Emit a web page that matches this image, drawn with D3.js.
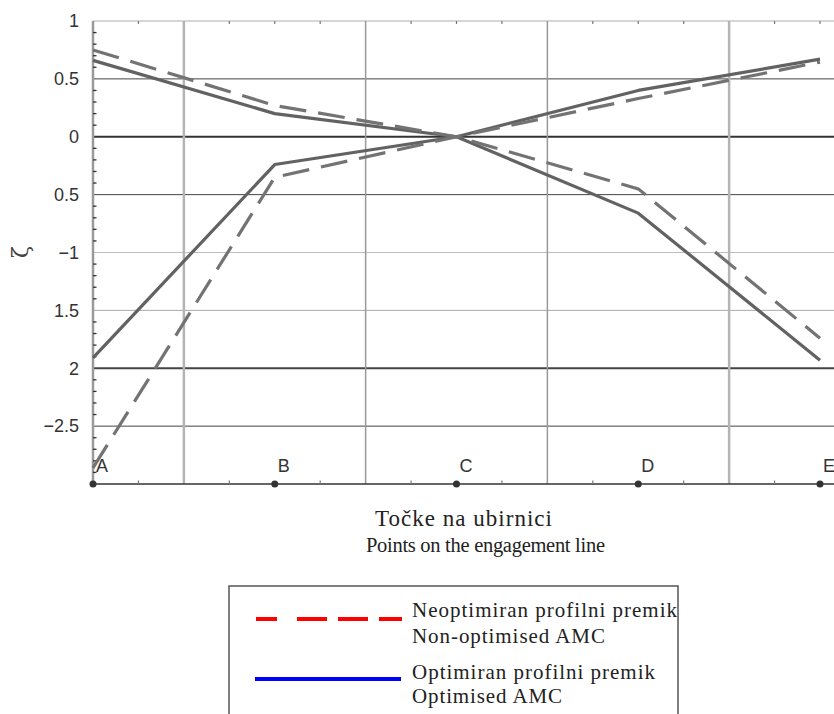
<!DOCTYPE html>
<html>
<head>
<meta charset="utf-8">
<script src="https://cdn.jsdelivr.net/npm/d3@7"></script>
<style>
  html, body { margin: 0; padding: 0; background: #fff; }
  svg { display: block; }
</style>
</head>
<body>
<div id="chart"></div>
<script>
// ---- data ----
const points = ["A", "B", "C", "D", "E"];
const nonOptDown = [0.75, 0.27, 0, -0.45, -1.74];
const nonOptUp = [-2.86, -0.35, 0, 0.33, 0.645];
const optDown = [0.66, 0.20, 0, -0.66, -1.93];
const optUp = [-1.91, -0.24, 0, 0.40, 0.67];
const yTickValues = [1, 0.5, 0, -0.5, -1, -1.5, -2, -2.5];
const yTickLabels = ["1", "0.5", "0", "0.5", "\u22121", "1.5", "2", "\u22122.5"];
const xTitleLines = ["Točke na ubirnici", "Points on the engagement line"];
const legendLabels = [
  ["Neoptimiran profilni premik", "Non-optimised AMC"],
  ["Optimiran profilni premik", "Optimised AMC"]
];

const W = 834, H = 714;
const svg = d3.select("#chart").append("svg").attr("width", W).attr("height", H);

const x = d3.scaleLinear().domain([0, 4]).range([93, 820]);
const y = d3.scaleLinear().domain([-3, 1]).range([484, 21]);
const xRight = 834;

// horizontal grid lines
const hStyle = {
  "1": ["#c8c8c8", 1.5], "0.5": ["#444", 1], "0": ["#333", 2], "-0.5": ["#444", 1],
  "-1": ["#bdbdbd", 1], "-1.5": ["#aaa", 1], "-2": ["#444", 2], "-2.5": ["#444", 1]
};
svg.append("g").selectAll("line").data(yTickValues).join("line")
  .attr("x1", x(0)).attr("x2", xRight)
  .attr("y1", d => y(d)).attr("y2", d => y(d))
  .attr("stroke", d => hStyle[String(d)][0])
  .attr("stroke-width", d => hStyle[String(d)][1]);

// vertical grid lines
const vGrid = [0.5, 1.5, 2.5, 3.5];
svg.append("g").selectAll("line").data(vGrid).join("line")
  .attr("x1", d => x(d)).attr("x2", d => x(d))
  .attr("y1", y(1)).attr("y2", y(-3))
  .attr("stroke", (d, i) => (i === 0 || i === 3) ? "#b4b4b4" : "#999")
  .attr("stroke-width", (d, i) => (i === 0 || i === 3) ? 2.5 : 1.5);

// top minor ticks
const quarter = d3.range(0, 4.01, 0.25).filter(v => Math.abs((v % 1) - 0.5) > 0.01);
svg.append("g").selectAll("line").data(quarter).join("line")
  .attr("x1", d => x(d)).attr("x2", d => x(d))
  .attr("y1", y(1)).attr("y2", y(1) + 3)
  .attr("stroke", "#777").attr("stroke-width", 1.2);

// left axis line and minor ticks
svg.append("line").attr("x1", x(0)).attr("x2", x(0)).attr("y1", y(1)).attr("y2", y(-3))
  .attr("stroke", "#9a9a9a").attr("stroke-width", 2.5);
const minorY = d3.range(-29, 10).map(v => v / 10).filter(v => Math.abs(v * 2 - Math.round(v * 2)) > 0.01);
svg.append("g").selectAll("line").data(minorY).join("line")
  .attr("x1", x(0)).attr("x2", x(0) + 3.5)
  .attr("y1", d => y(d)).attr("y2", d => y(d))
  .attr("stroke", "#333").attr("stroke-width", 1.3);

// y tick labels via axis
const yAxis = d3.axisLeft(y).tickValues(yTickValues)
  .tickFormat((d, i) => yTickLabels[i]).tickSize(0).tickPadding(14);
const gy = svg.append("g").attr("transform", `translate(${x(0)},0)`).call(yAxis);
gy.select(".domain").remove();
gy.selectAll("text").attr("font-family", "Liberation Sans, Arial, sans-serif")
  .attr("font-size", 18).attr("fill", "#333");

// bottom axis line
svg.append("line").attr("x1", x(0)).attr("x2", xRight).attr("y1", y(-3)).attr("y2", y(-3))
  .attr("stroke", "#333").attr("stroke-width", 1.6);
const bottomTicks = d3.range(0.25, 4, 0.25).filter(v => Math.abs((v % 1) - 0.5) > 0.01 && Math.abs(v % 1) > 0.01);
svg.append("g").selectAll("line").data(bottomTicks).join("line")
  .attr("x1", d => x(d)).attr("x2", d => x(d))
  .attr("y1", y(-3)).attr("y2", y(-3) - 3.5)
  .attr("stroke", "#777").attr("stroke-width", 1.2);

// series lines
const line = d3.line().x((d, i) => x(i)).y(d => y(d));
[optDown, optUp].forEach(s => {
  svg.append("path").datum(s).attr("d", line).attr("fill", "none")
    .attr("stroke", "#626262").attr("stroke-width", 3.2).attr("stroke-linejoin", "round");
});
[nonOptDown, nonOptUp].forEach(s => {
  svg.append("path").datum(s).attr("d", line).attr("fill", "none")
    .attr("stroke", "#737373").attr("stroke-width", 3.2).attr("stroke-dasharray", "27,12");
});

// point dots and labels
svg.append("g").selectAll("circle").data(points).join("circle")
  .attr("cx", (d, i) => x(i)).attr("cy", y(-3)).attr("r", 3.5).attr("fill", "#333");
svg.append("g").selectAll("text").data(points).join("text")
  .attr("x", (d, i) => x(i) + 3).attr("y", 472)
  .attr("font-family", "Liberation Sans, Arial, sans-serif").attr("font-size", 18)
  .attr("fill", "#333").text(d => d);

// y axis label
svg.append("text").attr("transform", "translate(28,252) rotate(-90)")
  .attr("text-anchor", "middle").attr("font-family", "DejaVu Serif, serif")
  .attr("font-size", 22).attr("fill", "#444").text("ζ");

// x title
const xTitlePos = [[375, 526, 177, 23], [366, 552, 239, 20.5]];
xTitleLines.forEach((t, i) => {
  svg.append("text").attr("x", xTitlePos[i][0]).attr("y", xTitlePos[i][1])
    .attr("textLength", xTitlePos[i][2]).attr("lengthAdjust", "spacing")
    .attr("font-family", "Liberation Serif, Times New Roman, serif")
    .attr("font-size", xTitlePos[i][3]).attr("fill", "#222").text(t);
});

// legend
svg.append("rect").attr("x", 229).attr("y", 586).attr("width", 449).attr("height", 160)
  .attr("fill", "none").attr("stroke", "#555").attr("stroke-width", 1.5);
svg.append("line").attr("x1", 256).attr("x2", 402).attr("y1", 619).attr("y2", 619)
  .attr("stroke", "#ff0000").attr("stroke-width", 4)
  .attr("stroke-dasharray", "21,20,30,11,30,11,23,200");
svg.append("line").attr("x1", 255).attr("x2", 401).attr("y1", 679).attr("y2", 679)
  .attr("stroke", "#0000ff").attr("stroke-width", 4);
const legPos = [[[617, 265], [643, 193]], [[679, 243], [703, 150]]];
legendLabels.forEach((pair, i) => {
  pair.forEach((t, j) => {
    svg.append("text").attr("x", 412).attr("y", legPos[i][j][0])
      .attr("textLength", legPos[i][j][1]).attr("lengthAdjust", "spacing")
      .attr("font-family", "Liberation Serif, Times New Roman, serif")
      .attr("font-size", 21).attr("fill", "#222").text(t);
  });
});
</script>
</body>
</html>
